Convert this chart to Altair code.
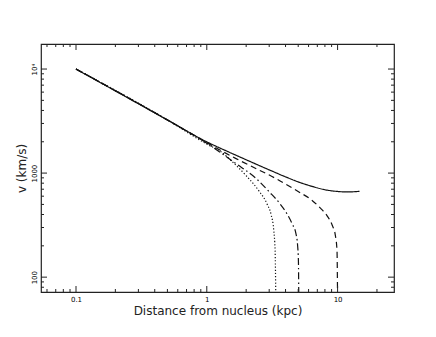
import altair as alt
import pandas as pd

r_solid = [0.1, 0.2, 0.5, 1.0, 1.5, 2.0, 3.0, 4.0, 5.0, 6.5, 8.0, 10.0, 12.0, 14.7]
v_solid = [10000, 6156, 3241, 1995, 1578, 1343, 1074, 920, 823, 740, 692, 666, 659, 668]

r_dashed = [0.1, 0.5, 1.0, 1.66, 2.37, 3.36, 4.5, 5.2, 6.1, 7.4, 8.3, 9.1, 9.6, 9.9, 10.0]
v_dashed = [10000, 3241, 1960, 1384, 1109, 889, 720, 646, 571, 460, 390, 315, 255, 180, 60]

r_dashdot = [0.1, 0.5, 1.0, 1.66, 2.4, 3.0, 3.6, 4.1, 4.5, 4.8, 4.95, 5.02, 5.05]
v_dashdot = [10000, 3241, 1940, 1240, 880, 661, 513, 407, 324, 263, 200, 141, 63]

r_dotted = [0.1, 0.5, 1.0, 1.3, 1.57, 2.0, 2.5, 2.9, 3.1, 3.25, 3.33, 3.37]
v_dotted = [10000, 3241, 1900, 1585, 1284, 944, 676, 500, 400, 282, 178, 63]

series_names = ["solid", "dashed", "dashdot", "dotted"]
series_dash = [[1, 0], [6, 4], [7, 3, 1.5, 3], [1.2, 2]]

x_major = [0.1, 1, 10]
x_minor = [0.06, 0.07, 0.08, 0.09, 0.2, 0.3, 0.4, 0.5, 0.6, 0.7, 0.8, 0.9,
           2, 3, 4, 5, 6, 7, 8, 9, 20]
y_major = [100, 1000, 10000]
y_minor = [80, 90, 200, 300, 400, 500, 600, 700, 800, 900,
           2000, 3000, 4000, 5000, 6000, 7000, 8000, 9000]

rows = []
for name, rs, vs in zip(series_names,
                        [r_solid, r_dashed, r_dashdot, r_dotted],
                        [v_solid, v_dashed, v_dashdot, v_dotted]):
    for r, v in zip(rs, vs):
        rows.append({"series": name, "r": r, "v": v})
df = pd.DataFrame(rows)

W, H = 353, 248
FONT = "DejaVu Sans"
MAJ, MIN = 6, 3
xscale = alt.Scale(type="log", domain=[0.054, 27])
yscale = alt.Scale(type="log", domain=[72, 17400])
dash = alt.StrokeDash("series:N",
                      scale=alt.Scale(domain=series_names, range=series_dash),
                      legend=None)

lines = alt.Chart(df).mark_line(color="#111", strokeWidth=1.2, interpolate="monotone",
                                clip=True).encode(
    x=alt.X("r:Q", scale=xscale,
            axis=alt.Axis(orient="bottom", values=x_major, ticks=False, domain=False, grid=False,
                          labelFontSize=7, labelFont=FONT, labelPadding=3,
                          labelExpr="datum.value < 0.5 ? '0.1' : format(datum.value, 'd')",
                          title="Distance from nucleus (kpc)", titleFont=FONT, titleFontSize=12,
                          titleFontWeight="normal", titleColor="#222", titlePadding=3)),
    y=alt.Y("v:Q", scale=yscale,
            axis=alt.Axis(orient="left", values=y_major, ticks=False, domain=False, grid=False,
                          labelFontSize=7, labelFont=FONT, labelAngle=-90, labelAlign="center",
                          labelBaseline="bottom", labelPadding=4,
                          labelExpr="datum.value > 9999 ? '10⁴' : format(datum.value, 'd')",
                          title="v (km/s)", titleFont=FONT, titleFontSize=12,
                          titleFontWeight="normal", titleColor="#222", titlePadding=2)),
    strokeDash=dash,
    detail="series:N",
)


def xticks(vals, size):
    d = pd.DataFrame({"r": vals})
    ch = alt.Chart(d).mark_rule(color="#222", strokeWidth=1)
    bottom = ch.encode(x=alt.X("r:Q", scale=xscale),
                       y=alt.value(H), y2=alt.value(H - size))
    top = ch.encode(x=alt.X("r:Q", scale=xscale),
                    y=alt.value(0), y2=alt.value(size))
    return [bottom, top]


def yticks(vals, size):
    d = pd.DataFrame({"v": vals})
    ch = alt.Chart(d).mark_rule(color="#222", strokeWidth=1)
    left = ch.encode(y=alt.Y("v:Q", scale=yscale),
                     x=alt.value(0), x2=alt.value(size))
    right = ch.encode(y=alt.Y("v:Q", scale=yscale),
                      x=alt.value(W), x2=alt.value(W - size))
    return [left, right]


layers = [lines] + xticks(x_minor, MIN) + xticks(x_major, MAJ) + \
    yticks(y_minor, MIN) + yticks(y_major, MAJ)

chart = alt.layer(*layers).properties(
    width=W, height=H,
    autosize=alt.AutoSizeParams(type="none"),
    padding={"left": 33, "top": 36, "right": 30, "bottom": 30},
    background="white",
).configure_view(stroke="#222", strokeWidth=1.2)

chart.save("out.html", embed_options={"renderer": "svg", "actions": False})
